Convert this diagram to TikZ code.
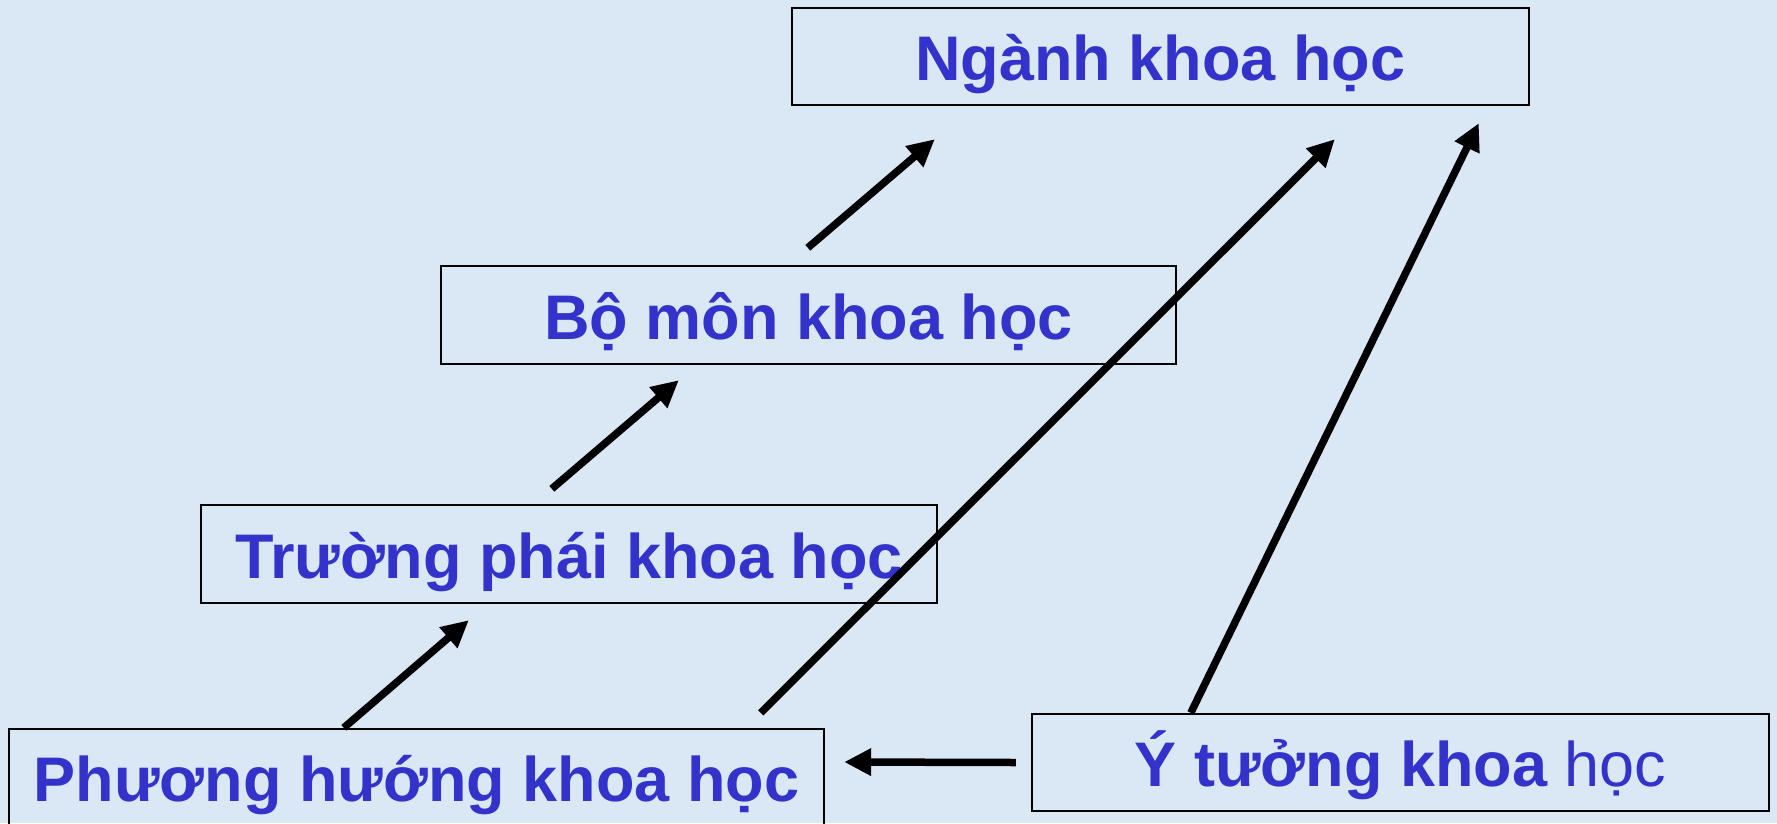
\documentclass[tikz,border=0pt]{standalone}
\usepackage{fontspec}
\setmainfont{Liberation Sans}
\usetikzlibrary{arrows.meta,calc}
\definecolor{bgblue}{RGB}{218,231,245}
\definecolor{txtblue}{RGB}{51,51,204}
\begin{document}
\begin{tikzpicture}[x=1pt,y=-1pt,
  box/.style={draw=black,line width=2.4pt,text=txtblue,
    font=\fontsize{63}{70}\selectfont\bfseries,
    inner sep=0pt,anchor=center,text height=48pt,text depth=0pt},
  arr/.style={line width=7.5pt,-{Triangle[length=27pt,width=26pt]}}]
\fill[bgblue] (0,0) rectangle (1777,823);
\useasboundingbox (0,0) rectangle (1777,823);
\clip (0,0) rectangle (1777,823);
\node[box,minimum width=737pt,minimum height=97pt] (nganh) at (1160.5,56.5) {Ngành khoa học};
\node[box,minimum width=735pt,minimum height=98pt] (bomon) at (808.5,315) {Bộ môn khoa học};
\node[box,minimum width=736pt,minimum height=98pt] (truong) at (569,554) {Trường phái khoa học};
\node[box,minimum width=815pt,minimum height=97pt] (phuong) at (416.5,777.5) {Phương hướng khoa học};
\node[box,minimum width=737pt,minimum height=97pt] (ytuong) at (1400.5,762.5) {Ý tưởng khoa {\mdseries học}};
\draw[arr] ($(phuong.north west)+(336,0)$) -- ($(truong.south west)+(269,16)$);
\draw[arr] ($(truong.north west)+(352,-15)$) -- ($(bomon.south west)+(239,15)$);
\draw[arr] ($(bomon.north west)+(368,-17)$) -- ($(nganh.south west)+(144,33)$);
\draw[arr] ($(phuong.north west)+(753,-15)$) -- ($(nganh.south west)+(544,33)$);
\draw[arr] ($(ytuong.north west)+(160,0)$) -- ($(nganh.south west)+(688,17)$);
\draw[arr] ($(ytuong.west)+(-15,0)$) -- ($(phuong.east)+(19,-15.5)$);
\end{tikzpicture}
\end{document}
